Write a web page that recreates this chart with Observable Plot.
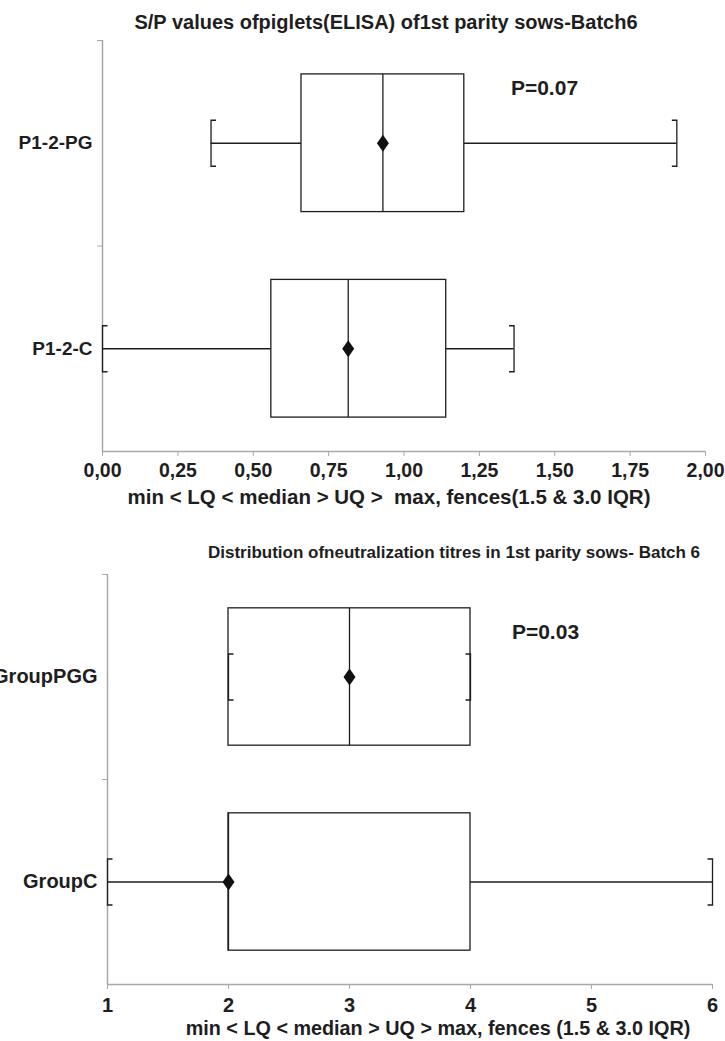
<!DOCTYPE html>
<html>
<head>
<meta charset="utf-8">
<script src="https://cdn.jsdelivr.net/npm/d3@7"></script>
<script src="https://cdn.jsdelivr.net/npm/@observablehq/plot@0.6"></script>
<style>
  html, body { margin: 0; padding: 0; background: #fff; }
  #wrap { width: 725px; height: 1041px; overflow: hidden; }
  svg { display: block; }
  svg text { white-space: pre; }
</style>
</head>
<body>
<div id="wrap"></div>
<script>
// ---------- Chart 1 : S/P values (ELISA) ----------
const spGroups  = ["P1-2-PG", "P1-2-C"];
const spMin     = [0.36, 0.00];
const spQ1      = [0.66, 0.56];
const spMedian  = [0.93, 0.815];
const spQ3      = [1.20, 1.14];
const spMax     = [1.905, 1.365];
const spMean    = [0.93, 0.815];
const spTicks   = [0, 0.25, 0.5, 0.75, 1, 1.25, 1.5, 1.75, 2];
const spTitle   = "S/P values ofpiglets(ELISA) of1st parity sows-Batch6";
const spAxis    = "min < LQ < median > UQ >  max, fences(1.5 & 3.0 IQR)";
const spP       = "P=0.07";

// ---------- Chart 2 : neutralization titres ----------
const ntGroups  = ["GroupPGG", "GroupC"];
const ntMin     = [2, 1];
const ntQ1      = [2, 2];
const ntMedian  = [3, 2];
const ntQ3      = [4, 4];
const ntMax     = [4, 6];
const ntMean    = [3, 2];
const ntTicks   = [1, 2, 3, 4, 5, 6];
const ntTitle   = "Distribution ofneutralization titres in 1st parity sows- Batch 6";
const ntAxis    = "min < LQ < median > UQ > max, fences (1.5 & 3.0 IQR)";
const ntP       = "P=0.03";

const INK = "#1e1e1e";
const AXIS = "#a8a8a8";
const FONT = "'Liberation Sans', Arial, Helvetica, sans-serif";

const capL = {draw(ctx) { ctx.moveTo(5, -23); ctx.lineTo(0, -23); ctx.lineTo(0, 23); ctx.lineTo(5, 23); }};
const capR = {draw(ctx) { ctx.moveTo(-5, -23); ctx.lineTo(0, -23); ctx.lineTo(0, 23); ctx.lineTo(-5, 23); }};
const diamond = {draw(ctx) { ctx.moveTo(0, -8.5); ctx.lineTo(6, 0); ctx.lineTo(0, 8.5); ctx.lineTo(-6, 0); ctx.closePath(); }};

function boxChart(o) {
  const n = o.groups.length;
  const idx = d3.range(n);
  const yc = i => i + 0.5;
  const half = 0.335;
  return Plot.plot({
    width: 725,
    height: o.height,
    marginLeft: o.ml, marginRight: o.mr, marginTop: o.mt, marginBottom: o.mb,
    style: {fontFamily: FONT, fontSize: "19px", fontWeight: "bold", color: INK, background: "#fff"},
    x: {domain: o.domain},
    y: {domain: [0, n], reverse: true},
    marks: [
      // axis lines
      Plot.ruleX([o.domain[0]], {stroke: AXIS, strokeWidth: 1.5}),
      Plot.ruleY([n], {stroke: AXIS, strokeWidth: 1.5}),
      Plot.axisX({ticks: o.ticks, tickFormat: o.fmt, tickSize: 5, tickPadding: o.xPad, stroke: AXIS, color: INK, fontSize: o.tickSize, label: null}),
      Plot.axisY({ticks: d3.range(n), tickSize: 5, tickFormat: () => "", stroke: AXIS, label: null}),
      Plot.axisY({ticks: idx.map(yc), tickSize: 0, tickPadding: 10, tickFormat: v => o.groups[Math.floor(v)], color: INK, fontSize: o.ySize, label: null}),
      // whiskers
      Plot.ruleY(idx, {x1: i => o.mins[i], x2: i => o.q1s[i], y: yc, stroke: INK, strokeWidth: 1.3}),
      Plot.ruleY(idx, {x1: i => o.q3s[i], x2: i => o.maxs[i], y: yc, stroke: INK, strokeWidth: 1.3}),
      Plot.dot(idx, {x: i => o.mins[i], y: yc, symbol: capL, r: 5, fill: "none", stroke: INK, strokeWidth: 1.3}),
      Plot.dot(idx, {x: i => o.maxs[i], y: yc, symbol: capR, r: 5, fill: "none", stroke: INK, strokeWidth: 1.3}),
      // boxes
      Plot.rect(idx, {x1: i => o.q1s[i], x2: i => o.q3s[i], y1: i => yc(i) - half, y2: i => yc(i) + half, fill: "none", stroke: INK, strokeWidth: 1.3}),
      Plot.ruleX(idx, {x: i => o.medians[i], y1: i => yc(i) - half, y2: i => yc(i) + half, stroke: INK, strokeWidth: 1.3}),
      Plot.dot(idx, {x: i => o.means[i], y: yc, symbol: diamond, r: 5, fill: "#111", stroke: "none"}),
      // texts
      Plot.text([o.title], {frameAnchor: "top", lineAnchor: "middle", text: d => d, dx: o.titleDx, dy: o.titleDy, fontSize: o.titleSize, fill: INK}),
      Plot.text([o.axisTitle], {frameAnchor: "bottom", lineAnchor: "middle", text: d => d, dx: o.axDx, dy: o.axDy, fontSize: o.axSize, fill: INK}),
      Plot.text([o.p], {frameAnchor: "top-right", lineAnchor: "middle", text: d => d, textAnchor: "middle", dx: o.pDx, dy: o.pDy, fontSize: 21, fill: INK})
    ]
  });
}

const fmt2 = d => d.toFixed(2).replace(".", ",");

const c1 = boxChart({
  groups: spGroups, mins: spMin, q1s: spQ1, medians: spMedian, q3s: spQ3, maxs: spMax, means: spMean,
  ticks: spTicks, fmt: fmt2, domain: [0, 2],
  title: spTitle, axisTitle: spAxis, p: spP,
  height: 520, ml: 102, mr: 20, mt: 40, mb: 69,
  tickSize: 19.5, ySize: 19, xPad: 7,
  titleDx: -18, titleDy: -18, titleSize: 20,
  axDx: -15, axDy: 46, axSize: 20.5,
  pDx: -161, pDy: 48
});
const c2 = boxChart({
  groups: ntGroups, mins: ntMin, q1s: ntQ1, medians: ntMedian, q3s: ntQ3, maxs: ntMax, means: ntMean,
  ticks: ntTicks, fmt: d => String(d), domain: [1, 6],
  title: ntTitle, axisTitle: ntAxis, p: ntP,
  height: 521, ml: 107, mr: 13, mt: 54, mb: 57,
  tickSize: 20, ySize: 20, xPad: 8,
  titleDx: 44, titleDy: -22, titleSize: 17,
  axDx: 28, axDy: 44, axSize: 19.8,
  pDx: -167, pDy: 58
});
const wrap = document.getElementById("wrap");
wrap.appendChild(c1);
wrap.appendChild(c2);
</script>
</body>
</html>
